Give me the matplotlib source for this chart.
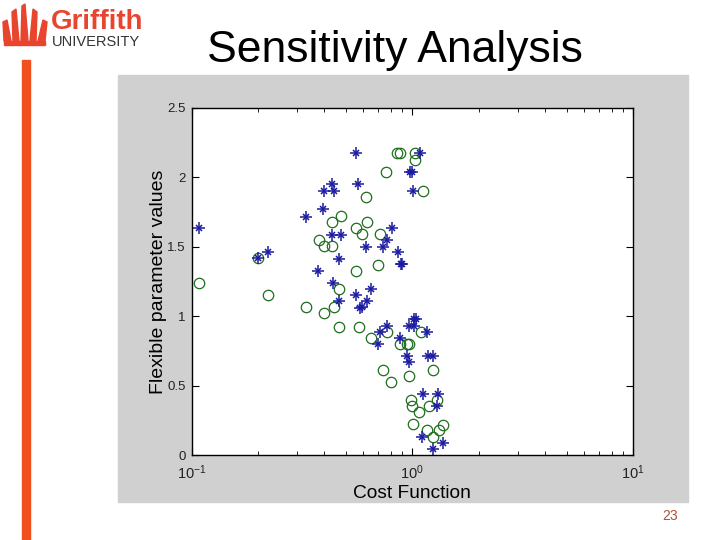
import numpy as np
import matplotlib
matplotlib.use('Agg')
import matplotlib.pyplot as plt
from matplotlib.patches import Rectangle, Polygon

plt.rcParams['font.family'] = ['Liberation Sans', 'DejaVu Sans']
plt.rcParams['mathtext.fontset'] = 'custom'
plt.rcParams['mathtext.rm'] = 'Liberation Sans'
plt.rcParams['mathtext.it'] = 'Liberation Sans:italic'
plt.rcParams['axes.unicode_minus'] = False

# '*' series (blue): cost function vs parameter value
star_cost = [0.108, 0.201, 0.222, 0.330, 0.376, 0.395, 0.399, 0.435, 0.440, 0.435,
             0.478, 0.437, 0.468, 0.468, 0.558, 0.570, 0.558, 0.618, 0.626, 0.591,
             0.580, 0.652, 0.700, 0.711, 0.739, 0.765, 0.770, 0.806, 0.863, 0.885,
             0.902, 0.881, 0.947, 0.967, 0.964, 1.023, 1.019, 1.042, 0.998, 0.974,
             1.005, 1.089, 1.170, 1.178, 1.246, 1.115, 1.312, 1.293, 1.107, 1.383,
             1.246]
star_param = [1.633, 1.419, 1.460, 1.718, 1.329, 1.770, 1.904, 1.952, 1.904, 1.587,
              1.587, 1.237, 1.412, 1.110, 2.174, 1.952, 1.153, 1.501, 1.110, 1.064,
              1.062, 1.194, 0.800, 0.888, 1.501, 1.549, 0.929, 1.633, 1.460, 1.374,
              1.374, 0.843, 0.713, 0.668, 0.929, 0.929, 0.978, 0.978, 2.037, 2.037,
              1.904, 2.174, 0.888, 0.713, 0.713, 0.439, 0.439, 0.353, 0.128, 0.084,
              0.043]

# 'o' series (green)
circ_cost = [0.108, 0.201, 0.222, 0.330, 0.377, 0.400, 0.435, 0.397, 0.435, 0.478,
             0.440, 0.468, 0.468, 0.558, 0.591, 0.625, 0.619, 0.558, 0.573, 0.701,
             0.716, 0.761, 0.652, 0.770, 0.736, 0.800, 0.856, 0.883, 1.026, 1.026,
             1.118, 0.881, 0.950, 0.969, 0.967, 1.100, 1.241, 0.985, 0.998, 1.078,
             1.187, 1.289, 1.008, 1.166, 1.316, 1.376, 1.241]
circ_param = [1.240, 1.419, 1.153, 1.064, 1.548, 1.506, 1.506, 1.021, 1.679, 1.720,
              1.064, 1.194, 0.924, 1.633, 1.591, 1.679, 1.857, 1.329, 0.924, 1.372,
              1.590, 2.037, 0.841, 0.884, 0.612, 0.526, 2.174, 2.174, 2.174, 2.125,
              1.904, 0.798, 0.798, 0.798, 0.569, 0.884, 0.612, 0.396, 0.353, 0.312,
              0.353, 0.396, 0.221, 0.180, 0.180, 0.216, 0.128]

W, H = 720, 540
fig = plt.figure(figsize=(7.2, 5.4), dpi=100)

def fx(px):
    return px / W

def fy(py):
    return 1 - py / H

# slide decorations
red = '#e8442e'
fig.patches.append(Rectangle((fx(22), 0), 8 / W, fy(60), transform=fig.transFigure,
                             color='#f0501e', zorder=0))
fig.patches.append(Rectangle((fx(118), fy(502)), (688 - 118) / W, (502 - 75) / H,
                             transform=fig.transFigure, color='#d0d0d0', zorder=0))
petals = [[(4, 41), (3, 22), (7, 20), (11, 41)],
          [(13, 41), (12, 12), (16, 9), (19, 41)],
          [(21, 41), (22, 6), (25, 4), (28, 41)],
          [(30, 41), (33, 9), (37, 12), (36, 41)],
          [(38, 41), (43, 20), (47, 22), (45, 41)],
          [(4, 41), (45, 41), (45, 45), (4, 45)]]
for p in petals:
    fig.patches.append(Polygon([(fx(a), fy(b)) for a, b in p], closed=True,
                               transform=fig.transFigure, color=red, zorder=1))
fig.text(fx(51), fy(29), 'Griffith', fontsize=20, fontweight='bold', color=red,
         va='baseline', ha='left')
fig.text(fx(52), fy(46), 'UNIVERSITY', fontsize=10.5, color='#333333',
         va='baseline', ha='left')
fig.text(fx(395), fy(62), 'Sensitivity Analysis', fontsize=32, color='black',
         ha='center', va='baseline')
fig.text(fx(678), fy(520), '23', fontsize=10, color='#b0503a', ha='right', va='baseline')

ax = fig.add_axes([fx(191.5), fy(455), (633 - 191.5) / W, (455 - 108) / H])
ax.set_zorder(3)
ax.set_xscale('log')

blue = '#1a1aa0'
green = '#1e6e1e'
ax.plot(circ_cost, circ_param, linestyle='none', marker='o', markersize=7.5,
        markerfacecolor='none', markeredgecolor=green, markeredgewidth=0.9)
ax.plot(star_cost, star_param, linestyle='none', marker='+', markersize=9,
        markeredgecolor=blue, markeredgewidth=1.1)
ax.plot(star_cost, star_param, linestyle='none', marker='x', markersize=4,
        markeredgecolor=blue, markeredgewidth=1.1)

ax.set_xlim(0.1, 10)
ax.set_ylim(0, 2.5)
ax.set_yticks([0, 0.5, 1, 1.5, 2, 2.5])
ax.set_yticklabels(['0', '0.5', '1', '1.5', '2', '2.5'])
ax.tick_params(which='both', direction='in', top=True, right=True,
               labelsize=9.5, labelcolor='#222222')
ax.tick_params(which='major', length=5, width=0.8, pad=4)
ax.tick_params(which='minor', length=3, width=0.6)
ax.tick_params(axis='x', which='major', labelsize=10.5, pad=6)
for s in ax.spines.values():
    s.set_linewidth(1.0)

ax.set_xlabel('Cost Function', fontsize=13.8)
ax.xaxis.set_label_coords(0.5, -0.086)
ax.set_ylabel('Flexible parameter values', fontsize=14)
ax.yaxis.set_label_coords(-0.056, 0.5)

plt.savefig('out.png', dpi=100)
